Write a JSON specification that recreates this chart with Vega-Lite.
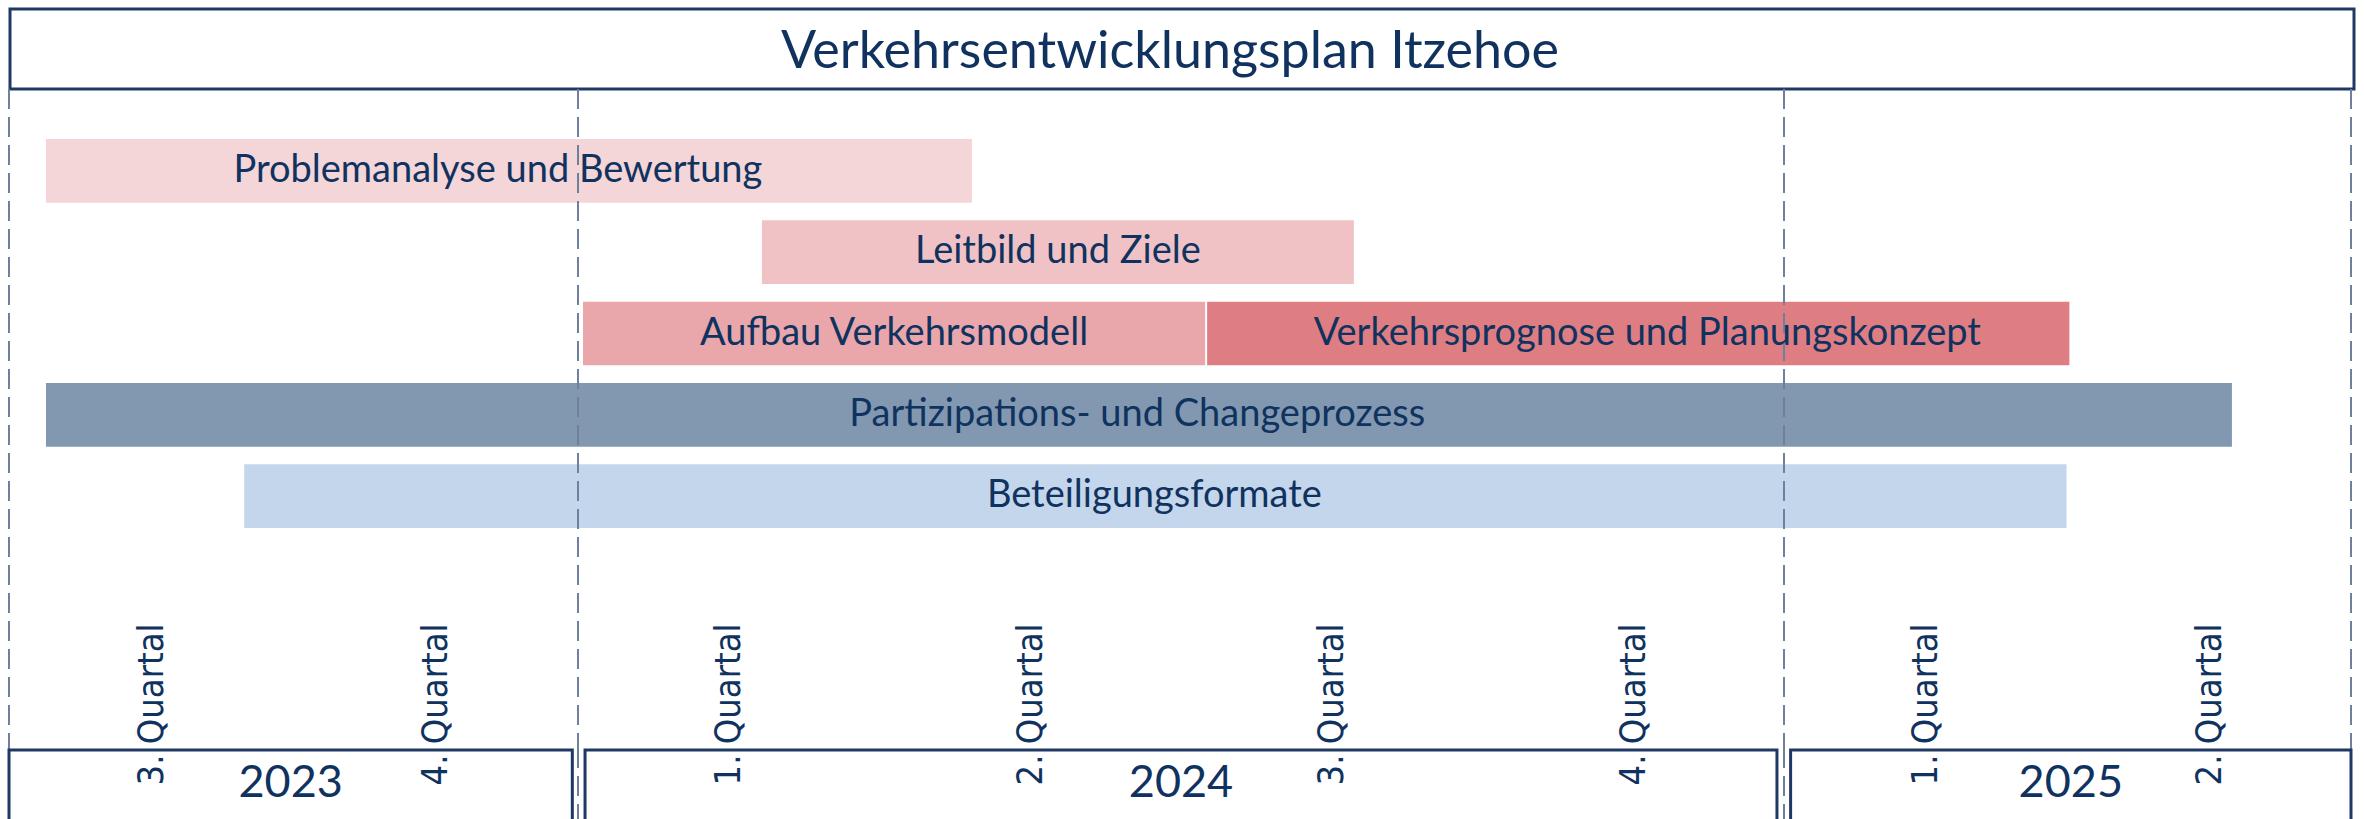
{
  "$schema": "https://vega.github.io/schema/vega-lite/v6.json",
  "background": "white",
  "padding": {"left": 0, "top": 7, "right": 0, "bottom": 0},
  "spacing": 0,
  "bounds": "flush",
  "center": true,
  "config": {"view": {"stroke": null}, "axis": {"grid": false}},
  "datasets": {
    "titel": [{"text": "Verkehrsentwicklungsplan Itzehoe"}],
    "aufgaben": [
      {"aufgabe": "Problemanalyse und Bewertung", "zeile": "Analyse", "start": 0.39, "ende": 9.92},
      {"aufgabe": "Leitbild und Ziele", "zeile": "Ziele", "start": 7.83, "ende": 13.72},
      {"aufgabe": "Aufbau Verkehrsmodell", "zeile": "Modell", "start": 6.05, "ende": 12.24},
      {"aufgabe": "Verkehrsprognose und Planungskonzept", "zeile": "Modell", "start": 12.26, "ende": 21.02},
      {"aufgabe": "Partizipations- und Changeprozess", "zeile": "Partizipation", "start": 0.39, "ende": 22.74},
      {"aufgabe": "Beteiligungsformate", "zeile": "Beteiligung", "start": 2.48, "ende": 20.99}
    ],
    "grenzen": [{"grenze": 0}, {"grenze": 6}, {"grenze": 18}, {"grenze": 24}],
    "jahre": [
      {"jahr": "2023", "start": 0, "ende": 5.94},
      {"jahr": "2024", "start": 6.07, "ende": 17.93},
      {"jahr": "2025", "start": 18.07, "ende": 24}
    ]
  },
  "vconcat": [
    {
      "width": 2344,
      "height": 80,
      "view": {"stroke": "#1f3864", "strokeWidth": 3, "fill": "white"},
      "data": {"name": "titel"},
      "mark": {"type": "text", "font": "Lato", "fontSize": 52, "color": "#10325f", "baseline": "middle", "align": "center", "dx": -12, "dy": 3},
      "encoding": {"text": {"field": "text", "type": "nominal"}}
    },
    {
      "width": 2364,
      "height": 659,
      "layer": [
        {
          "data": {"name": "aufgaben"},
          "mark": {"type": "bar"},
          "encoding": {
            "x": {
              "field": "start", "type": "quantitative",
              "scale": {"domain": [0, 6, 18, 24], "range": [9, 578, 1784, 2351]},
              "axis": {
                "values": [1.5, 4.5, 7.5, 10.5, 13.5, 16.5, 19.5, 22.5],
                "labelExpr": "(floor(((datum.value + 6) % 12) / 3) + 1) + '. Quartal'",
                "labelAngle": 270,
                "labelAlign": "right",
                "labelBaseline": "middle",
                "labelFont": "DejaVu Sans Condensed",
                "labelFontSize": 36,
                "labelColor": "#10325f",
                "labelPadding": 0,
                "labelFlush": false,
                "labelOverlap": false,
                "labelBound": false,
                "domain": false,
                "ticks": false,
                "grid": false,
                "title": null,
                "offset": -125
              }
            },
            "x2": {"field": "ende"},
            "y": {
              "field": "zeile", "type": "nominal",
              "scale": {"domain": ["Analyse", "Ziele", "Modell", "Partizipation", "Beteiligung"], "range": [50, 439], "paddingInner": 0.216, "paddingOuter": 0},
              "axis": null
            },
            "color": {
              "field": "aufgabe", "type": "nominal",
              "scale": {
                "domain": ["Problemanalyse und Bewertung", "Leitbild und Ziele", "Aufbau Verkehrsmodell", "Verkehrsprognose und Planungskonzept", "Partizipations- und Changeprozess", "Beteiligungsformate"],
                "range": ["#f4d5d8", "#f0c2c5", "#e9a7ab", "#de7e83", "#8198b0", "#c4d6eb"]
              },
              "legend": null
            }
          }
        },
        {
          "data": {"name": "grenzen"},
          "mark": {"type": "rule", "color": "#6f809c", "strokeWidth": 2, "strokeDash": [20, 8]},
          "encoding": {
            "x": {"field": "grenze", "type": "quantitative"}
          }
        },
        {
          "data": {"name": "aufgaben"},
          "transform": [{"fold": ["start", "ende"], "as": ["grenzart", "wert"]}],
          "mark": {"type": "text", "font": "Lato", "fontSize": 38, "color": "#10325f", "baseline": "middle", "align": "center"},
          "encoding": {
            "x": {"aggregate": "mean", "field": "wert", "type": "quantitative"},
            "y": {"field": "zeile", "type": "nominal"},
            "text": {"field": "aufgabe", "type": "nominal"}
          }
        }
      ]
    },
    {
      "width": 2364,
      "height": 73,
      "layer": [
        {
          "data": {"name": "grenzen"},
          "mark": {"type": "rule", "color": "#6f809c", "strokeWidth": 2, "strokeDash": [20, 8]},
          "encoding": {
            "x": {"field": "grenze", "type": "quantitative", "scale": {"domain": [0, 6, 18, 24], "range": [9, 578, 1784, 2351]}, "axis": null}
          }
        },
        {
          "data": {"name": "jahre"},
          "mark": {"type": "rect", "fill": "white", "fillOpacity": 0, "stroke": "#1f3864", "strokeWidth": 3, "yOffset": 2, "y2Offset": 20, "clip": true},
          "encoding": {
            "x": {"field": "start", "type": "quantitative", "axis": null},
            "x2": {"field": "ende"}
          }
        },
        {
          "data": {"name": "jahre"},
          "transform": [{"fold": ["start", "ende"], "as": ["grenzart", "wert"]}],
          "mark": {"type": "text", "font": "Lato", "fontSize": 45, "color": "#10325f", "baseline": "middle", "align": "center", "dy": -2},
          "encoding": {
            "x": {"aggregate": "mean", "field": "wert", "type": "quantitative", "axis": null},
            "text": {"field": "jahr", "type": "nominal"}
          }
        }
      ]
    }
  ]
}
